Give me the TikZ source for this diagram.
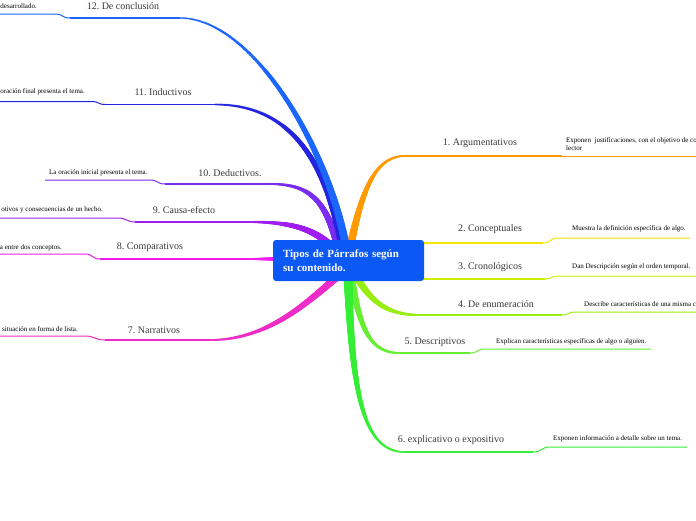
\documentclass[tikz,border=0pt]{standalone}
\usepackage{fontspec}
\setmainfont{Liberation Serif}
\usetikzlibrary{decorations.markings}
\definecolor{cbox}{HTML}{0B58F5}
\definecolor{c1}{HTML}{FF9A00}
\definecolor{c2}{HTML}{F5E400}
\definecolor{c3}{HTML}{CCF000}
\definecolor{c4}{HTML}{99EE11}
\definecolor{c5}{HTML}{66EE33}
\definecolor{c6}{HTML}{33EE33}
\definecolor{c7}{HTML}{F02CC8}
\definecolor{c8}{HTML}{F01CF0}
\definecolor{c9}{HTML}{A01CF0}
\definecolor{c10}{HTML}{7A2CF0}
\definecolor{c11}{HTML}{2424E0}
\definecolor{c12}{HTML}{1A66FF}
\definecolor{ctext}{HTML}{3A3A3A}
\tikzset{
  branch/.style n args={3}{postaction={decorate, decoration={markings,
     mark=between positions 0 and 1 step 0.004 with {%
       \pgfmathsetmacro\rr{#2-(#2-#3)*\pgfkeysvalueof{/pgf/decoration/mark info/distance from start}/\pgfdecoratedpathlength}%
       \fill[#1] (0,0) circle[radius=\rr pt];}}}},
  uline/.style={line width=1.8pt},
  sline/.style={line width=1pt},
  topic/.style={font=\fontsize{10}{12}\selectfont, text=ctext, inner sep=0pt},
  sub/.style={font=\fontsize{7}{8}\selectfont, text=black, inner sep=0pt},
}
\frenchspacing
\begin{document}
\begin{tikzpicture}[x=1pt,y=-1pt]
\useasboundingbox (0,0) rectangle (696,520);
\fill[white] (0,0) rectangle (696,520);

% ---------- coordinates ----------
% right side
\coordinate (b1s) at (350,248);  \coordinate (b1e) at (405,156);  \coordinate (u1) at (562,156);  \coordinate (w1) at (696,156);
\coordinate (b2s) at (345,252);  \coordinate (b2e) at (430,243);  \coordinate (u2) at (543,243);  \coordinate (v2) at (558,238); \coordinate (w2) at (690,238);
\coordinate (b3s) at (350,262);  \coordinate (b3e) at (430,279);  \coordinate (u3) at (545,279);  \coordinate (v3) at (558,276); \coordinate (w3) at (696,276);
\coordinate (b4s) at (352,268);  \coordinate (b4e) at (420,315);  \coordinate (u4) at (562,315);  \coordinate (v4) at (575,312); \coordinate (w4) at (696,312);
\coordinate (b5s) at (350,272);  \coordinate (b5e) at (400,353);  \coordinate (u5) at (470,353);  \coordinate (v5) at (485,349); \coordinate (w5) at (651,349);
\coordinate (b6s) at (348,275);  \coordinate (b6e) at (405,452);  \coordinate (u6) at (533,452);  \coordinate (v6) at (550,447); \coordinate (w6) at (687,447);
% left side
\coordinate (b7s) at (345,270);  \coordinate (b7e) at (210,340);  \coordinate (u7) at (105,340);  \coordinate (v7) at (85,336);  \coordinate (w7) at (0,336);
\coordinate (b8s) at (330,256);  \coordinate (b8e) at (250,259);  \coordinate (u8) at (100,259);  \coordinate (v8) at (85,254);  \coordinate (w8) at (0,254);
\coordinate (b9s) at (335,250);  \coordinate (b9e) at (250,222);  \coordinate (u9) at (135,222);  \coordinate (v9) at (118,218); \coordinate (w9) at (0,218);
\coordinate (b10s) at (338,246); \coordinate (b10e) at (270,184); \coordinate (u10) at (165,184); \coordinate (v10) at (150,180); \coordinate (w10) at (45,180);
\coordinate (b11s) at (342,244); \coordinate (b11e) at (215,104.5); \coordinate (u11) at (105,104.5); \coordinate (v11) at (92,101.5); \coordinate (w11) at (0,101.5);
\coordinate (b12s) at (345,242); \coordinate (b12e) at (180,18);  \coordinate (u12) at (70,18);   \coordinate (v12) at (55,14);  \coordinate (w12) at (0,14);

% ---------- branches ----------
\path[branch={c1}{4}{0.9}]  (b1s) .. controls (362,190) and (375,156) .. (b1e);
\draw[uline,c1] (b1e) -- (u1);
\draw[sline,c1] (u1) -- (w1);

\path[branch={c2}{4}{0.9}]  (b2s) .. controls (380,250) and (400,243) .. (b2e);
\draw[uline,c2] (b2e) -- (u2);
\draw[sline,c2] (u2) .. controls +(8,0) and +(-8,0) .. (v2) -- (w2);

\path[branch={c3}{4}{0.9}]  (b3s) .. controls (380,270) and (400,279) .. (b3e);
\draw[uline,c3] (b3e) -- (u3);
\draw[sline,c3] (u3) .. controls +(7,0) and +(-7,0) .. (v3) -- (w3);

\path[branch={c4}{4}{0.9}]  (b4s) .. controls (368,300) and (385,315) .. (b4e);
\draw[uline,c4] (b4e) -- (u4);
\draw[sline,c4] (u4) .. controls +(7,0) and +(-7,0) .. (v4) -- (w4);

\path[branch={c5}{4}{0.9}]  (b5s) .. controls (360,330) and (370,353) .. (b5e);
\draw[uline,c5] (b5e) -- (u5);
\draw[sline,c5] (u5) .. controls +(8,0) and +(-8,0) .. (v5) -- (w5);

\path[branch={c6}{4.5}{0.9}] (b6s) .. controls (352,400) and (365,452) .. (b6e);
\draw[uline,c6] (b6e) -- (u6);
\draw[sline,c6] (u6) .. controls +(9,0) and +(-9,0) .. (v6) -- (w6);

\path[branch={c7}{4}{0.9}]  (b7s) .. controls (310,300) and (270,340) .. (b7e);
\draw[uline,c7] (b7e) -- (u7);
\draw[sline,c7] (u7) .. controls +(-10,0) and +(10,0) .. (v7) -- (w7);

\path[branch={c8}{4}{0.9}]  (b8s) .. controls (300,259) and (280,259) .. (b8e);
\draw[uline,c8] (b8e) -- (u8);
\draw[sline,c8] (u8) .. controls +(-8,0) and +(8,0) .. (v8) -- (w8);

\path[branch={c9}{4}{0.9}]  (b9s) .. controls (315,228) and (290,222) .. (b9e);
\draw[uline,c9] (b9e) -- (u9);
\draw[sline,c9] (u9) .. controls +(-8,0) and +(8,0) .. (v9) -- (w9);

\path[branch={c10}{4}{0.9}] (b10s) .. controls (325,200) and (310,184) .. (b10e);
\draw[uline,c10] (b10e) -- (u10);
\draw[sline,c10] (u10) .. controls +(-8,0) and +(8,0) .. (v10) -- (w10);

\path[branch={c11}{4}{0.9}] (b11s) .. controls (325,160) and (290,104.5) .. (b11e);
\draw[uline,c11] (b11e) -- (u11);
\draw[sline,c11] (u11) .. controls +(-7,0) and +(7,0) .. (v11) -- (w11);

\path[branch={c12}{4}{0.9}] (b12s) .. controls (325,140) and (250,18) .. (b12e);
\draw[uline,c12] (b12e) -- (u12);
\draw[sline,c12] (u12) .. controls +(-8,0) and +(8,0) .. (v12) -- (w12);

% ---------- central topic ----------
\node[fill=cbox, rounded corners=3pt, minimum width=151pt, minimum height=41pt,
      text width=131pt, align=left, text=white,
      font=\bfseries\fontsize{11}{14}\selectfont] (center) at (348.5,260.5)
      {Tipos de Párrafos según\\su contenido.};

% ---------- topic labels ----------
\node[topic] (t1) at (480,143) {1. Argumentativos};
\node[topic] (t2) at (490,229) {2. Conceptuales};
\node[topic] (t3) at (490,267) {3. Cronológicos};
\node[topic] (t4) at (496,304) {4. De enumeración};
\node[topic] (t5) at (435,342) {5. Descriptivos};
\node[topic] (t6) at (451,440) {6. explicativo o expositivo};
\node[topic] (t7) at (154,330) {7. Narrativos};
\node[topic] (t8) at (150,247) {8. Comparativos};
\node[topic] (t9) at (184,210) {9. Causa-efecto};
\node[topic] (t10) at (230,173) {10. Deductivos.};
\node[topic] (t11) at (163,92) {11. Inductivos};
\node[topic] (t12) at (123,6) {12. De conclusión};

% ---------- sub texts ----------
\node[sub, anchor=north west, align=left] (s1) at (566,137) {Exponen\ \ justificaciones, con el objetivo de co\\lector};
\node[sub, anchor=west] (s2) at (572,229) {Muestra la definición específica de algo.};
\node[sub, anchor=west] (s3) at (572,267) {Dan Descripción según el orden temporal.};
\node[sub, anchor=west] (s4) at (584,304) {Describe características de una misma c};
\node[sub, anchor=west] (s5) at (496,342) {Explican características específicas de algo o alguien.};
\node[sub, anchor=west] (s6) at (553,439) {Exponen información a detalle sobre un tema.};
\node[sub, anchor=east] (s7) at (78,329) {situación en forma de lista.};
\node[sub, anchor=east] (s8) at (62,248) {a entre dos conceptos.};
\node[sub, anchor=east] (s9) at (103,210) {otivos y consecuencias de un hecho.};
\node[sub, anchor=west] (s10) at (49,173) {La oración inicial presenta el tema.};
\node[sub, anchor=east] (s11) at (85,92) {oración final presenta el tema.};
\node[sub, anchor=east] (s12) at (37,6) {desarrollado.};
\end{tikzpicture}
\end{document}
